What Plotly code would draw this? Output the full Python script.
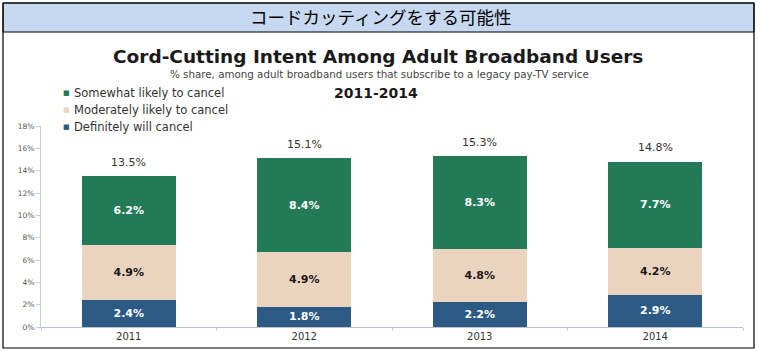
import plotly.graph_objects as go

years = ["2011", "2012", "2013", "2014"]
definitely = [2.4, 1.8, 2.2, 2.9]
moderately = [4.9, 4.9, 4.8, 4.2]
somewhat = [6.2, 8.4, 8.3, 7.7]
totals = [13.5, 15.1, 15.3, 14.8]
series_names = ["Definitely will cancel", "Moderately likely to cancel", "Somewhat likely to cancel"]
y_ticks = [0, 2, 4, 6, 8, 10, 12, 14, 16, 18]
y_tick_labels = [f"{v}%" for v in y_ticks]

header_text = "コードカッティングをする可能性"
title_text = "Cord-Cutting Intent Among Adult Broadband Users"
subtitle_text = "% share, among adult broadband users that subscribe to a legacy pay-TV service"
period_text = "2011-2014"

W, H = 759, 355
ML, MR, MT, MB = 41, 16, 126, 28
PW = W - ML - MR
PH = H - MT - MB


def px(x):
    return (x - ML) / PW


def py(y):
    return (H - MB - y) / PH


colors = ["#2C5A84", "#EBD4BF", "#237A57"]
text_colors = ["white", "#1a1a1a", "white"]
FONT = "DejaVu Sans"

fig = go.Figure()
for name, vals, col, tcol in zip(series_names, [definitely, moderately, somewhat], colors, text_colors):
    fig.add_trace(go.Bar(
        x=years, y=vals, name=name,
        marker=dict(color=col, line=dict(width=0)),
        text=[f"<b>{v:.1f}%</b>" for v in vals],
        textposition="inside", insidetextanchor="middle", textangle=0,
        constraintext="none",
        textfont=dict(family=FONT, size=11, color=tcol),
        showlegend=False, hoverinfo="skip",
    ))

annotations = []
for i, t in enumerate(totals):
    annotations.append(dict(x=i, y=t, xref="x", yref="y", text=f"{t:.1f}%",
                            showarrow=False, yshift=14,
                            font=dict(family=FONT, size=11, color="#333333")))

# header and titles
annotations.append(dict(x=px(380), y=py(16), xref="paper", yref="paper", text=header_text,
                        showarrow=False, xanchor="center", yanchor="middle",
                        font=dict(family="Noto Sans CJK JP", size=17.5, color="#000000")))
annotations.append(dict(x=px(378), y=py(56), xref="paper", yref="paper", text=f"<b>{title_text}</b>",
                        showarrow=False, xanchor="center", yanchor="middle",
                        font=dict(family=FONT, size=18.5, color="#1a1a1a")))
annotations.append(dict(x=px(379), y=py(74), xref="paper", yref="paper", text=subtitle_text,
                        showarrow=False, xanchor="center", yanchor="middle",
                        font=dict(family=FONT, size=10.3, color="#444444")))
annotations.append(dict(x=px(376), y=py(93), xref="paper", yref="paper", text=f"<b>{period_text}</b>",
                        showarrow=False, xanchor="center", yanchor="middle",
                        font=dict(family=FONT, size=14, color="#1a1a1a")))

# legend (manual)
legend_rows = [(series_names[2], colors[2], 93), (series_names[1], colors[1], 110), (series_names[0], colors[0], 127)]
for name, col, yy in legend_rows:
    annotations.append(dict(x=px(66), y=py(yy), xref="paper", yref="paper", text="■",
                            showarrow=False, xanchor="center", yanchor="middle",
                            font=dict(family=FONT, size=7, color=col)))
    annotations.append(dict(x=px(72), y=py(yy), xref="paper", yref="paper", text=name,
                            showarrow=False, xanchor="left", yanchor="middle",
                            font=dict(family=FONT, size=11.5, color="#333333")))

shapes = [
    dict(type="rect", xref="paper", yref="paper", x0=px(3), x1=px(754), y0=py(3), y1=py(32),
         fillcolor="#C6D9F1", line=dict(color="#000000", width=1), layer="below"),
    dict(type="rect", xref="paper", yref="paper", x0=px(3), x1=px(754), y0=py(3), y1=py(348),
         fillcolor="rgba(0,0,0,0)", line=dict(color="#000000", width=1.2), layer="above"),
]

fig.update_layout(
    width=W, height=H,
    margin=dict(l=ML, r=MR, t=MT, b=MB, pad=0),
    barmode="stack", bargap=0.464,
    paper_bgcolor="white", plot_bgcolor="white",
    annotations=annotations, shapes=shapes,
    xaxis=dict(type="category", showline=True, linecolor="#B9C3CC", linewidth=1, ticks="outside",
               tickson="boundaries", ticklen=3, tickcolor="#C8CED4", showgrid=False,
               tickfont=dict(family=FONT, size=10, color="#333333")),
    yaxis=dict(range=[0, 18], tickvals=y_ticks, ticktext=y_tick_labels, showline=True,
               linecolor="#C8CED4", linewidth=1, ticks="outside", ticklen=4, tickcolor="#C8CED4",
               showgrid=False, zeroline=False,
               tickfont=dict(family=FONT, size=7.5, color="#555555")),
)

fig.write_html("out.html", config={"displayModeBar": False},
               post_script="document.body.style.margin='0';document.body.style.padding='0';")
